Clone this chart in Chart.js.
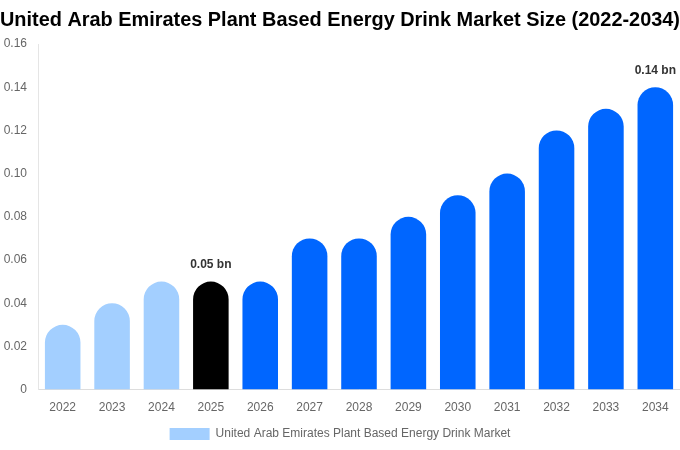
<!DOCTYPE html>
<html>
<head>
<meta charset="utf-8">
<script src="https://cdn.jsdelivr.net/npm/chart.js@4"></script>
<style>
  html, body { margin: 0; padding: 0; background: #fff; }
  #wrap { width: 680px; height: 450px; position: relative; }
</style>
</head>
<body>
<div id="wrap"><canvas id="chart"></canvas></div>
<script>
// ============ Data ============
const years = ['2022', '2023', '2024', '2025', '2026', '2027', '2028', '2029', '2030', '2031', '2032', '2033', '2034'];
const marketSize = [0.03, 0.04, 0.05, 0.05, 0.05, 0.07, 0.07, 0.08, 0.09, 0.10, 0.12, 0.13, 0.14];
const barColors = ['#a3cfff', '#a3cfff', '#a3cfff', '#000000', '#0066ff', '#0066ff', '#0066ff', '#0066ff', '#0066ff', '#0066ff', '#0066ff', '#0066ff', '#0066ff'];
const labelledBars = { 3: '0.05 bn', 12: '0.14 bn' };
const yTicks = [0, 0.02, 0.04, 0.06, 0.08, 0.10, 0.12, 0.14, 0.16];

Chart.defaults.font.family = '"Liberation Sans", Arial, sans-serif';

// draws the "x bn" text above selected bars
const barLabels = {
  id: 'barLabels',
  afterDatasetsDraw(chart) {
    const ctx = chart.ctx;
    const meta = chart.getDatasetMeta(0);
    ctx.save();
    ctx.font = 'bold 12px "Liberation Sans", Arial, sans-serif';
    ctx.fillStyle = '#333';
    ctx.textAlign = 'center';
    ctx.textBaseline = 'bottom';
    Object.entries(labelledBars).forEach(([i, txt]) => {
      const bar = meta.data[i];
      ctx.fillText(txt, bar.x, bar.y - 11);
    });
    ctx.restore();
  }
};

new Chart(document.getElementById('chart'), {
  type: 'bar',
  data: {
    labels: years,
    datasets: [{
      label: 'United Arab Emirates Plant Based Energy Drink Market',
      data: marketSize,
      backgroundColor: barColors,
      borderRadius: { topLeft: 18, topRight: 18 },
      borderSkipped: 'bottom',
      barPercentage: 0.72,
      categoryPercentage: 1,
    }],
  },
  options: {
    responsive: true,
    maintainAspectRatio: false,
    animation: false,
    layout: { padding: { left: 0, right: 0, top: 0, bottom: 0 } },
    plugins: {
      title: {
        display: true,
        text: 'United Arab Emirates Plant Based Energy Drink Market Size (2022-2034)',
        color: '#000',
        font: { size: 20, weight: 'bold' },
        padding: { top: 8, bottom: 12 },
      },
      legend: {
        position: 'bottom',
        labels: {
          color: '#666',
          font: { size: 12 },
          boxWidth: 40,
          boxHeight: 12,
          padding: 8,
          generateLabels: () => [{
            text: 'United Arab Emirates Plant Based Energy Drink Market',
            fillStyle: '#a3cfff',
            strokeStyle: '#a3cfff',
            lineWidth: 0,
            fontColor: '#666',
          }],
        },
      },
      tooltip: { enabled: false },
    },
    scales: {
      x: {
        grid: { display: false, drawTicks: false },
        border: { color: '#ddd' },
        afterFit: axis => { axis.height -= 6; },
        ticks: { color: '#666', font: { size: 12 }, padding: 11 },
      },
      y: {
        min: 0,
        max: 0.16,
        grid: { display: false, drawTicks: false },
        border: { color: '#e5e5e5' },
        afterBuildTicks: axis => { axis.ticks = yTicks.map(v => ({ value: v })); },
        afterFit: axis => { axis.width = 38; },
        ticks: {
          color: '#666',
          font: { size: 12 },
          padding: 11,
          callback: v => v === 0 ? '0' : v.toFixed(2),
        },
      },
    },
  },
  plugins: [barLabels],
});
</script>
</body>
</html>
